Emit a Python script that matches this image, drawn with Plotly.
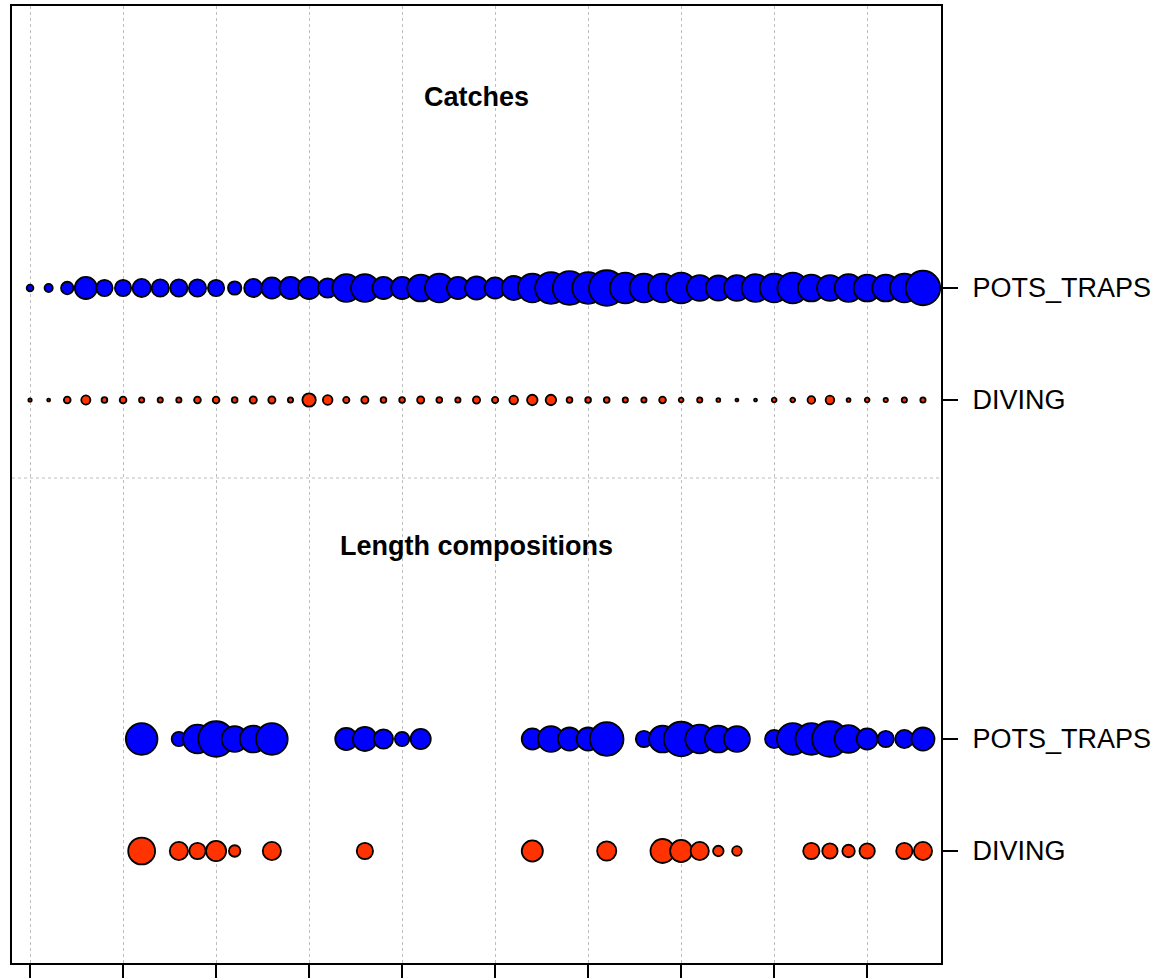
import plotly.graph_objects as go

# Years covered by the data series
years = list(range(1970, 2019))

# Catches (relative magnitude, 0-100) by fleet
catch_pots_traps = [3.6, 5.3, 12.3, 38.6, 21.1, 21.1, 26.4, 23.7, 23.7, 23.7,
                    21.1, 14.3, 26.4, 35.4, 38.6, 38.6, 29.2, 61.4, 61.4, 38.6,
                    38.6, 57.3, 65.7, 38.6, 42.1, 35.4, 45.7, 65.7, 79.5, 89.5,
                    79.5, 100, 74.8, 65.7, 65.7, 74.8, 53.3, 49.4, 53.3, 61.4,
                    65.7, 74.8, 57.3, 53.3, 61.4, 57.3, 57.3, 65.7, 94.7]
catch_diving = [0.9, 0.66, 3.6, 6.6, 2.6, 3.6, 2.2, 2.2, 2.2, 3.6,
                3.6, 2.6, 4.1, 4.1, 2.2, 14.3, 7.3, 3.1, 4.1, 2.6,
                2.6, 4.1, 2.6, 2.2, 4.1, 3.1, 5.9, 8.8, 8.8, 2.6,
                2.6, 2.6, 2.2, 2.2, 3.6, 1.8, 2.2, 1.2, 0.66, 0.66,
                1.8, 1.8, 4.7, 5.9, 1.2, 1.8, 1.5, 2.2, 2.2]

# Length composition sample sizes (relative magnitude, 0-100)
lencomp_pots_years = [1976, 1978, 1979, 1980, 1981, 1982, 1983,
                      1987, 1988, 1989, 1990, 1991,
                      1997, 1998, 1999, 2000, 2001,
                      2003, 2004, 2005, 2006, 2007, 2008,
                      2010, 2011, 2012, 2013, 2014, 2015, 2016, 2017, 2018]
lencomp_pots = [79.5, 16.4, 65.7, 100, 53.3, 57.3, 79.5,
                38.6, 45.7, 29.2, 16.4, 32.2,
                35.4, 53.3, 42.1, 42.1, 89.5,
                21.1, 57.3, 94.7, 65.7, 57.3, 53.3,
                26.4, 79.5, 79.5, 100, 61.4, 35.4, 21.1, 26.4, 42.1]
lencomp_diving_years = [1976, 1978, 1979, 1980, 1981, 1983, 1988,
                        1997, 2001, 2004, 2005, 2006, 2007, 2008,
                        2012, 2013, 2014, 2015, 2017, 2018]
lencomp_diving = [57.3, 26.4, 21.1, 32.2, 10.5, 26.4, 21.1,
                  35.4, 29.2, 45.7, 38.6, 26.4, 8.8, 7.3,
                  21.1, 18.7, 12.3, 18.7, 21.1, 26.4]

fleet_labels = ["POTS_TRAPS", "DIVING"]
panel_titles = ["Catches", "Length compositions"]
tick_years = list(range(1970, 2019, 5))

# Vertical layout of the rows (y units)
Y_LEN_DIVING, Y_LEN_POTS = 0, 112
Y_CATCH_DIVING, Y_CATCH_POTS = 451, 563
Y_DIVIDER = 373
Y_TITLE_LEN, Y_TITLE_CATCH = 305, 754

BLUE = "#0000FF"
RED = "#FF3300"
SIZEREF = 2 * 100 / 35.5 ** 2

fig = go.Figure()


def add_row(x, vals, y, color):
    fig.add_trace(go.Scatter(
        x=x, y=[y] * len(x), mode="markers",
        marker=dict(size=vals, sizemode="area", sizeref=SIZEREF, opacity=1,
                    color=color, line=dict(color="black", width=1.8)),
        showlegend=False, hoverinfo="x"))


add_row(years, catch_pots_traps, Y_CATCH_POTS, BLUE)
add_row(years, catch_diving, Y_CATCH_DIVING, RED)
add_row(lencomp_pots_years, lencomp_pots, Y_LEN_POTS, BLUE)
add_row(lencomp_diving_years, lencomp_diving, Y_LEN_DIVING, RED)

# Panel divider
fig.add_shape(type="line", xref="paper", x0=0, x1=1, y0=Y_DIVIDER, y1=Y_DIVIDER,
              line=dict(color="#BEBEBE", width=1.2, dash="dot"), layer="below")

title_font = dict(family="Liberation Sans, Arial, sans-serif", size=27, color="black")
for txt, yy in zip(panel_titles, [Y_TITLE_CATCH, Y_TITLE_LEN]):
    fig.add_annotation(x=0.5, xref="paper", y=yy, yref="y", text=f"<b>{txt}</b>",
                       showarrow=False, font=title_font)

fig.update_layout(
    width=1161, height=978,
    margin=dict(l=12, r=220, t=6, b=15),
    plot_bgcolor="white", paper_bgcolor="white",
    font=dict(family="Liberation Sans, Arial, sans-serif", size=27, color="black"),
    xaxis=dict(range=[1969.03, 2018.97], tickvals=tick_years, showticklabels=False,
               ticks="outside", ticklen=16, tickwidth=1.8, tickcolor="black",
               showgrid=True, gridcolor="#BEBEBE", gridwidth=1.2, griddash="dot",
               showline=True, linecolor="black", linewidth=2, mirror=True,
               zeroline=False, automargin=False),
    yaxis=dict(range=[-112, 845], side="right",
               tickvals=[Y_CATCH_POTS, Y_CATCH_DIVING, Y_LEN_POTS, Y_LEN_DIVING],
               ticktext=fleet_labels + fleet_labels,
               ticks="outside", ticklen=15, tickwidth=1.8, tickcolor="black",
               ticklabelstandoff=9, automargin=False,
               showgrid=False, zeroline=False,
               showline=True, linecolor="black", linewidth=2, mirror=True),
)

fig.write_html("out.html")
